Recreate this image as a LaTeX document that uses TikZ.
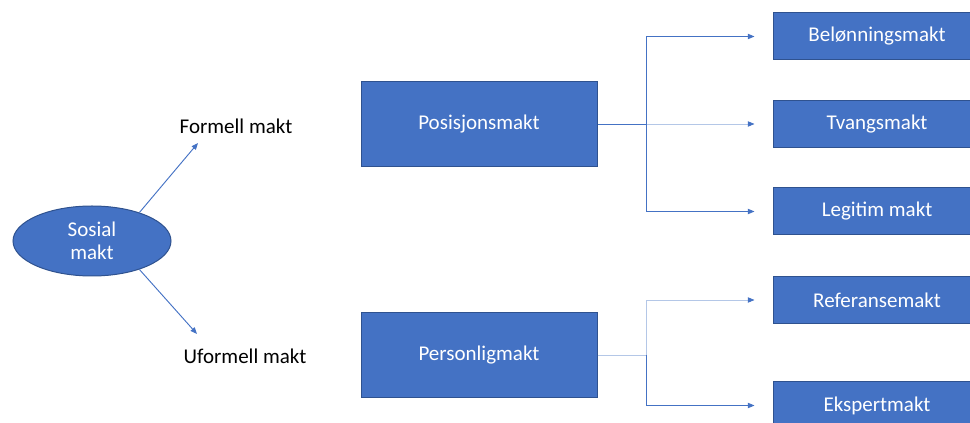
\documentclass[tikz,border=0pt]{standalone}
\usepackage{fontspec}
\setmainfont{Carlito}
\usetikzlibrary{arrows.meta,shapes.geometric}
\definecolor{boxblue}{HTML}{4472C4}
\definecolor{edgeblue}{HTML}{2F528F}
\definecolor{paleblue}{HTML}{B4C7E7}

\begin{document}
\begin{tikzpicture}[
  x=0.75pt, y=-0.75pt,
  every node/.style={font=\fontsize{15.75}{17.5}\selectfont},
  bigbox/.style={draw=edgeblue, line width=0.75pt, fill=boxblue, text=white, minimum width=177pt, minimum height=63.75pt},
  smallbox/.style={draw=edgeblue, line width=0.75pt, fill=boxblue, text=white, minimum width=156pt, minimum height=35.25pt},
  oval/.style={ellipse, draw=edgeblue, line width=0.75pt, fill=boxblue, text=white, minimum width=118.5pt, minimum height=52.5pt, inner sep=0pt, align=center},
  link/.style={draw=boxblue, line width=0.7pt},
  palelink/.style={draw=paleblue, line width=0.7pt},
  >={Triangle[length=5pt,width=4pt,color=boxblue]}
]
\useasboundingbox (0,0) rectangle (970,423);
\clip (0,0) rectangle (970,423);

\node[oval] (sosial) at (92,241) {Sosial\\makt};
\node (formell) at (236,126) {Formell makt};
\node (uformell) at (245,356) {Uformell makt};
\coordinate (formtip) at (198,143);
\coordinate (uformtip) at (197,334);

\node[bigbox] (posisjon) at (479,124) {Posisjonsmakt};
\node[bigbox] (personlig) at (479,355) {Personligmakt};

\node[smallbox] (belonning) at (877,36.5) {Belønningsmakt};
\node[smallbox] (tvang) at (877,124) {Tvangsmakt};
\node[smallbox] (legitim) at (877,211.5) {Legitim makt};
\node[smallbox] (referanse) at (877,300) {Referansemakt};
\node[smallbox] (ekspert) at (877,405.5) {Ekspertmakt};

\coordinate (fork1) at (646,124);
\coordinate (fork2) at (646,355);

\draw[link,->] (sosial.31) -- (formtip);
\draw[link,->] (sosial.-31) -- (uformtip);

\draw[link] (posisjon.east) -- (fork1);
\draw[link,->,shorten >=13.5pt] (fork1) |- (belonning.west);
\draw[palelink,->,shorten >=13.5pt] (fork1) -- (tvang.west);
\draw[link,->,shorten >=13.5pt] (fork1) |- (legitim.west);

\draw[palelink] (personlig.east) -- (fork2);
\draw[palelink,->,shorten >=13.5pt] (fork2) |- (referanse.west);
\draw[link,->,shorten >=13.5pt] (fork2) |- (ekspert.west);
\end{tikzpicture}
\end{document}
